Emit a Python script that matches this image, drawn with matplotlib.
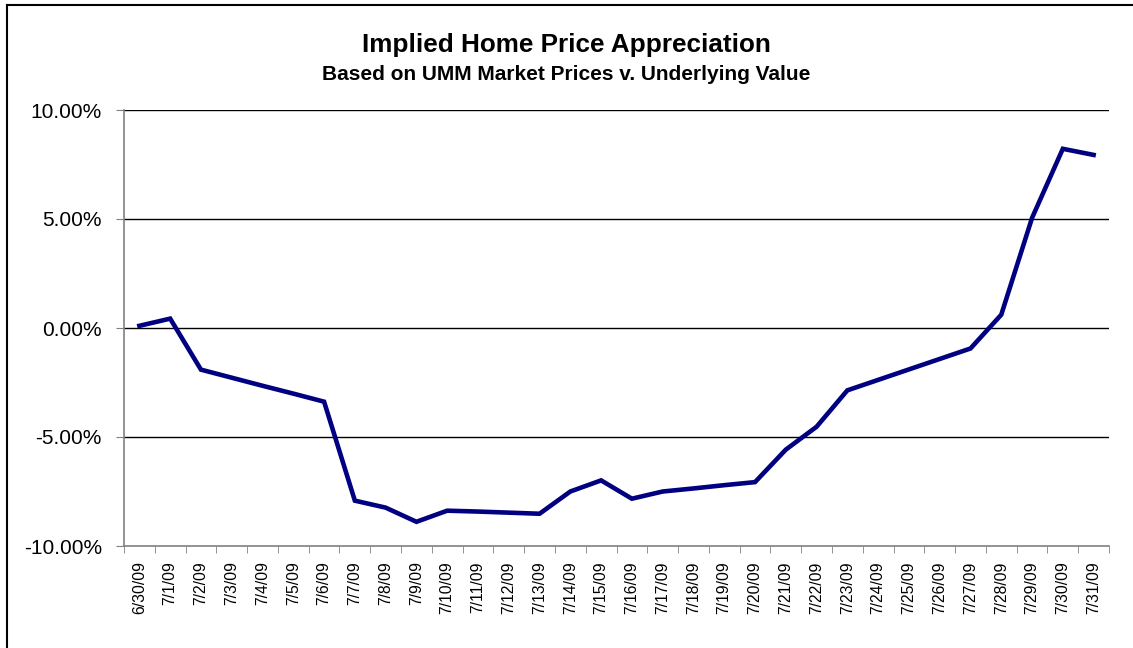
import matplotlib
matplotlib.use("Agg")
import matplotlib.pyplot as plt
from matplotlib.ticker import FuncFormatter, FixedLocator
from matplotlib.lines import Line2D

dates = ["6/30/09", "7/1/09", "7/2/09", "7/3/09", "7/4/09", "7/5/09", "7/6/09",
         "7/7/09", "7/8/09", "7/9/09", "7/10/09", "7/11/09", "7/12/09", "7/13/09",
         "7/14/09", "7/15/09", "7/16/09", "7/17/09", "7/18/09", "7/19/09", "7/20/09",
         "7/21/09", "7/22/09", "7/23/09", "7/24/09", "7/25/09", "7/26/09", "7/27/09",
         "7/28/09", "7/29/09", "7/30/09", "7/31/09"]
appreciation = [0.10, 0.43, -1.91, -2.28, -2.65, -3.01, -3.38,
                -7.92, -8.24, -8.89, -8.38, -8.42, -8.47, -8.52,
                -7.50, -6.99, -7.83, -7.50, -7.36, -7.21, -7.07,
                -5.58, -4.53, -2.86, -2.38, -1.90, -1.42, -0.94,
                0.61, 5.05, 8.22, 7.94]
yticks = [-10, -5, 0, 5, 10]

plt.rcParams['font.family'] = ['Liberation Sans', 'DejaVu Sans']

fig = plt.figure(figsize=(11.33, 6.48), dpi=100)
ax = fig.add_axes([124/1133, 1 - 546/648, (1109 - 124)/1133, (546 - 110)/648])

x = list(range(len(dates)))
ax.plot(x, appreciation, color='#000080', linewidth=3.3, solid_joinstyle='miter', zorder=3)

ax.set_xlim(-0.5, len(dates) - 0.5)
ax.set_ylim(-10, 10)
ax.set_yticks(yticks)
ax.yaxis.set_major_formatter(FuncFormatter(lambda v, p: f"{v:.2f}%"))
ax.set_xticks(x)
ax.set_xticklabels(dates, rotation=90, fontsize=11.3)
ax.xaxis.set_minor_locator(FixedLocator([i - 0.5 for i in range(len(dates) + 1)]))
ax.tick_params(axis='x', which='major', length=0, pad=11)
ax.tick_params(axis='x', which='minor', length=5, direction='out', color='#808080')
ax.tick_params(axis='y', length=6, direction='out', color='#808080', labelsize=15, pad=10)

for yv in yticks:
    if yv != -10:
        ax.axhline(yv, color='black', linewidth=1.0, zorder=1)

for s in ['top', 'right']:
    ax.spines[s].set_visible(False)
for s in ['left', 'bottom']:
    ax.spines[s].set_color('#808080')
    ax.spines[s].set_linewidth(1.2)

fig.text(0.5, 1 - 45/648, "Implied Home Price Appreciation", ha='center', va='center',
         fontsize=18.8, fontweight='bold')
fig.text(0.5, 1 - 75/648, "Based on UMM Market Prices v. Underlying Value", ha='center',
         va='center', fontsize=15, fontweight='bold')

# outer chart frame (left and top edges visible)
fig.add_artist(Line2D([7/1133, 7/1133], [0, 1 - 5/648], transform=fig.transFigure,
                      color='black', linewidth=1.5))
fig.add_artist(Line2D([7/1133, 1], [1 - 5/648, 1 - 5/648], transform=fig.transFigure,
                      color='black', linewidth=1.5))

fig.savefig("out.png", dpi=100)
